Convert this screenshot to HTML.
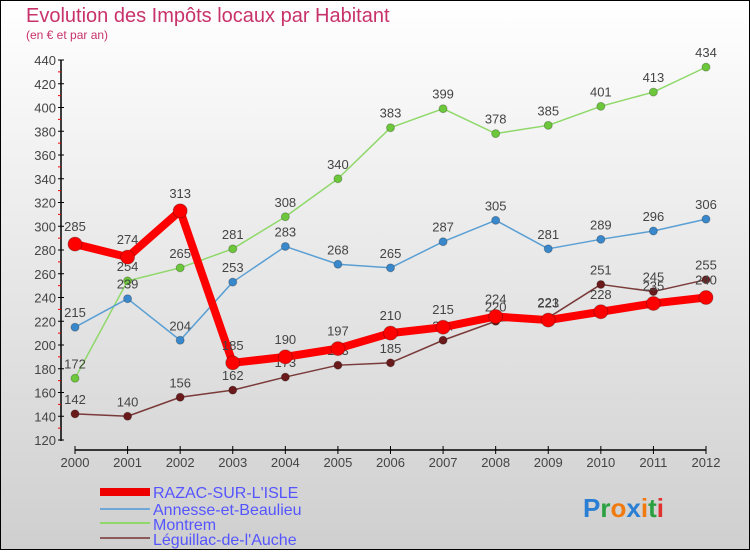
<!DOCTYPE html>
<html><head><meta charset="utf-8"><style>
body{margin:0;width:750px;height:550px;overflow:hidden;font-family:"Liberation Sans",sans-serif}
</style></head><body>
<svg width="750" height="550" xmlns="http://www.w3.org/2000/svg" id="svg">
<defs><linearGradient id="bg" x1="0" y1="0" x2="0" y2="1"><stop offset="0" stop-color="#ffffff"/><stop offset="1" stop-color="#cfcfcf"/></linearGradient></defs>
<rect x="0.5" y="0.5" width="749" height="549" fill="url(#bg)" stroke="#000"/>
<text x="26" y="22" font-size="20" fill="#c8326a">Evolution des Impôts locaux par Habitant</text>
<text x="26" y="39" font-size="12" fill="#c8326a">(en € et par an)</text>
<g id="axes"></g><g id="series"></g>
<g font-size="16" fill="#5555ff">
<line x1="100" y1="492" x2="150" y2="492" stroke="#e00" stroke-width="8"/>
<text x="153" y="498">RAZAC-SUR-L'ISLE</text>
<line x1="100" y1="509" x2="150" y2="509" stroke="#6fa8d6" stroke-width="2"/>
<text x="153" y="515">Annesse-et-Beaulieu</text>
<line x1="100" y1="523" x2="150" y2="523" stroke="#8fd86a" stroke-width="2"/>
<text x="153" y="530">Montrem</text>
<line x1="100" y1="538" x2="150" y2="538" stroke="#8b5a5a" stroke-width="2"/>
<text x="153" y="545">Léguillac-de-l'Auche</text>
</g>
<text x="583" y="517" font-size="26" font-weight="bold"><tspan fill="#2a7fd4">P</tspan><tspan fill="#2aa040">r</tspan><tspan fill="#f07a10">o</tspan><tspan fill="#2a7fd4">x</tspan><tspan fill="#f07a10">i</tspan><tspan fill="#2aa040">t</tspan><tspan fill="#e03030">i</tspan></text>
</svg>
<script>
const years=[2000,2001,2002,2003,2004,2005,2006,2007,2008,2009,2010,2011,2012];
const razac=[285,274,313,185,190,197,210,215,224,221,228,235,240];
const annesse=[215,239,204,253,283,268,265,287,305,281,289,296,306];
const montrem=[172,254,265,281,308,340,383,399,378,385,401,413,434];
const leguillac=[142,140,156,162,173,183,185,204,220,223,251,245,255];
const yTicks=[120,140,160,180,200,220,240,260,280,300,320,340,360,380,400,420,440];
const NS='http://www.w3.org/2000/svg';
const X=i=>75+i*(706-75)/12;
const Y=v=>440-(v-120)*380/320;
function mk(t,a,p){const e=document.createElementNS(NS,t);for(const k in a)e.setAttribute(k,a[k]);p.appendChild(e);return e;}
const ax=document.getElementById('axes');
let l=mk('line',{x1:61,y1:60,x2:61,y2:441,stroke:'#000','stroke-width':1.5},ax);

l=mk('line',{x1:75,y1:450,x2:706,y2:450,stroke:'#000','stroke-width':1.5},ax);

yTicks.forEach((v,i)=>{
 mk('line',{x1:58,y1:Y(v),x2:64,y2:Y(v),stroke:'#000'},ax);
 if(i<yTicks.length-1)mk('line',{x1:58,y1:Y(v+10),x2:61,y2:Y(v+10),stroke:'#e00'},ax);
 const t=mk('text',{x:56,y:Y(v)+5,'text-anchor':'end','font-size':13,fill:'#444'},ax);t.textContent=v;
 
});
years.forEach((y,i)=>{
 mk('line',{x1:X(i),y1:446,x2:X(i),y2:454,stroke:'#000'},ax);
 const t=mk('text',{x:X(i),y:467,'text-anchor':'middle','font-size':13,fill:'#444'},ax);t.textContent=y;
 
});
const sg=document.getElementById('series');
function series(name,vals,color,w,r,dot){
 const g=mk('g',{},sg);
 
 mk('polyline',{points:vals.map((v,i)=>X(i)+','+Y(v)).join(' '),fill:'none',stroke:color,'stroke-width':w,'stroke-linejoin':'round'},g);
 vals.forEach((v,i)=>{
  const c=mk('circle',{cx:X(i),cy:Y(v),r:r,fill:dot,stroke:'rgba(0,0,0,0.25)'},g);
  
  const t=mk('text',{x:X(i),y:Y(v)-(r+6),'text-anchor':'middle','font-size':13,fill:'#444'},g);t.textContent=v;
  
 });
}
series('montrem-series',montrem,'#8fd86a',1.5,4,'#6cc83a');
series('annesse-series',annesse,'#5a9fd4',1.5,4,'#3a88cc');
series('leguillac-series',leguillac,'#7a3a3a',1.5,4,'#6a1a1a');
series('razac-series',razac,'#f00',8,7,'#f00');
</script>
</body></html>
